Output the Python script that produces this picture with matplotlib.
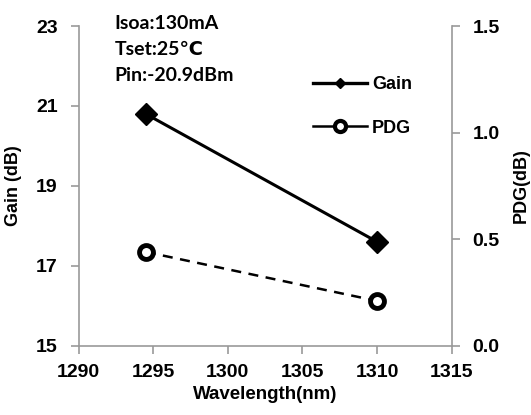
import matplotlib
matplotlib.use("Agg")
import matplotlib.pyplot as plt
from matplotlib.lines import Line2D

wavelength = [1294.5, 1310.0]
gain = [20.8, 17.6]
pdg = [0.44, 0.21]

x_ticks = [1290, 1295, 1300, 1305, 1310, 1315]
gain_ticks = [15, 17, 19, 21, 23]
pdg_ticks = [0.0, 0.5, 1.0, 1.5]
pdg_labels = ["0.0", "0.5", "1.0", "1.5"]

plt.rcParams['font.family'] = ['Liberation Sans', 'DejaVu Sans']
plt.rcParams['font.weight'] = 'bold'

fig = plt.figure(figsize=(5.31, 4.15), dpi=100)
ax = fig.add_axes([0.148, 0.167, 0.7027, 0.7703])
ax2 = ax.twinx()

gray = '#999999'
for a in (ax, ax2):
    a.spines['top'].set_visible(False)
    a.set_facecolor('none')
    for s in ('left', 'right', 'bottom'):
        a.spines[s].set_color(gray)
        a.spines[s].set_linewidth(1.2)
    a.tick_params(direction='out', color=gray, width=1.2, length=6,
                  labelsize=14)
ax.spines['right'].set_visible(False)
ax2.spines['left'].set_visible(False)
ax2.spines['bottom'].set_visible(False)

ax.plot(wavelength, gain, color='black', lw=2.2, marker='D', ms=11,
        markerfacecolor='black', markeredgecolor='black', zorder=3)
ax2.plot(wavelength, pdg, color='black', lw=1.8, ls=(0, (4, 3)), marker='o', ms=10,
         markerfacecolor='white', markeredgecolor='black', markeredgewidth=3.5, zorder=3)

ax.set_xlim(1290, 1315)
ax.set_ylim(15, 23)
ax2.set_ylim(0, 1.5)
ax.set_xticks(x_ticks)
ax.set_yticks(gain_ticks)
ax2.set_yticks(pdg_ticks)
ax2.set_yticklabels(pdg_labels)
ax.tick_params(axis='x', pad=7)
ax.tick_params(axis='y', pad=9)
ax2.tick_params(axis='y', pad=9)

ax.set_xlabel('Wavelength(nm)', fontsize=13.5, fontweight='bold', labelpad=4)
ax.set_ylabel('Gain (dB)', fontsize=13, fontweight='bold', labelpad=10)
ax2.set_ylabel('PDG(dB)', fontsize=13, fontweight='bold', labelpad=9)

ax.text(0.097, 1.035, 'Isoa:130mA\nTset:25\u2103\nPin:-20.9dBm', transform=ax.transAxes,
        fontsize=14, family=['Lato', 'DejaVu Sans'], fontweight='bold',
        va='top', ha='left', linespacing=1.65)

handles = [
    Line2D([], [], color='black', lw=2.4, marker='D', ms=5, markerfacecolor='black'),
    Line2D([], [], color='black', lw=1.8, marker='o', ms=8, markerfacecolor='white',
           markeredgewidth=3),
]
leg = ax.legend(handles, ['Gain', 'PDG'], loc='upper left', bbox_to_anchor=(0.585, 0.893),
                frameon=False, handlelength=3.0, labelspacing=1.45, handletextpad=0.25,
                prop={'weight': 'bold', 'size': 13})

fig.savefig('out.png', dpi=100)
